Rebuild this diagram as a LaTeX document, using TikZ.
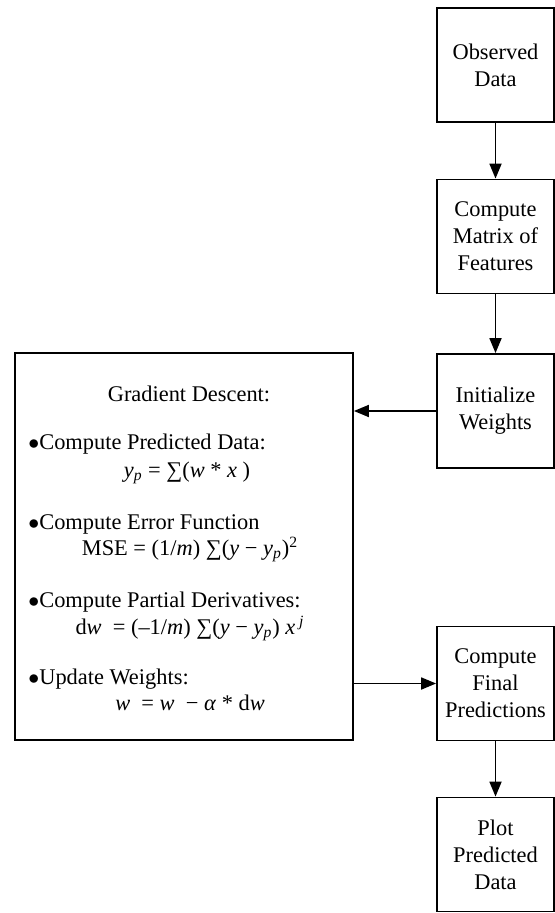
\documentclass[tikz,border=0pt]{standalone}
\usepackage{fontspec}
\setmainfont{Liberation Serif}
\usetikzlibrary{arrows.meta}

\begin{document}
\begin{tikzpicture}[x=0.5pt, y=-0.5pt, font=\fontsize{11.2}{13.5}\selectfont]
                \tikzstyle{stage} = [draw, line width=0.9pt, align=center, minimum width=58.5pt, minimum height=57pt, inner sep=0pt]
                \tikzstyle{flow} = [line width=0.9pt, -{Triangle[length=7.5pt, width=6pt]}]
                \tikzstyle{item} = [anchor=base west, inner sep=0pt]
                \tikzstyle{formula} = [anchor=base, inner sep=0pt]
                \useasboundingbox (0, 0) rectangle (555, 913);
                % pipeline on the right
                \node[stage] (observed) at (495.5, 65) {Observed\\Data};
                \node[stage] (features) at (495.5, 236.5) {Compute\\Matrix of\\Features};
                \node[stage] (init) at (495.5, 411) {Initialize\\Weights};
                \node[stage] (final) at (495.5, 683.5) {Compute\\Final\\Predictions};
                \node[stage] (plot) at (495.5, 854.5) {Plot\\Predicted\\Data};
                % gradient descent box
                \node[draw, line width=0.9pt, minimum width=169pt, minimum height=193.5pt, inner sep=0pt] (gd) at (184, 546.5) {};
                \node[formula] (title) at (189, 401) {Gradient Descent:};
                \node[item] (predict) at (28, 450) {$\bullet$Compute Predicted Data:};
                \node[formula] (predeq) at (187, 477) {\textit{y}\textsubscript{\textit{p}} = ∑(\textit{w} * \textit{x} )};
                \node[item] (error) at (28, 529) {$\bullet$Compute Error Function};
                \node[formula] (erreq) at (190, 555) {MSE = (1/\textit{m}) ∑(\textit{y} − \textit{y}\textsubscript{\textit{p}})\textsuperscript{2}};
                \node[item] (partial) at (28, 607) {$\bullet$Compute Partial Derivatives:};
                \node[formula] (parteq) at (190, 634) {d\textit{w}\ \ = (–1/\textit{m}) ∑(\textit{y} − \textit{y}\textsubscript{\textit{p}}) \textit{x}\,\textsuperscript{\textit{j}}};
                \node[item] (update) at (28, 684) {$\bullet$Update Weights:};
                \node[formula] (updeq) at (190, 710) {\textit{w}\ \ = \textit{w}\ \ − \textit{α} * d\textit{w}};
                % arrows
                \draw[flow] (observed) -- (features);
                \draw[flow] (features) -- (init);
                \draw[flow] (init) -- (init -| gd.east);
                \draw[flow] (gd.east |- final) -- (final);
                \draw[flow] (final) -- (plot);
            \end{tikzpicture}
\end{document}
